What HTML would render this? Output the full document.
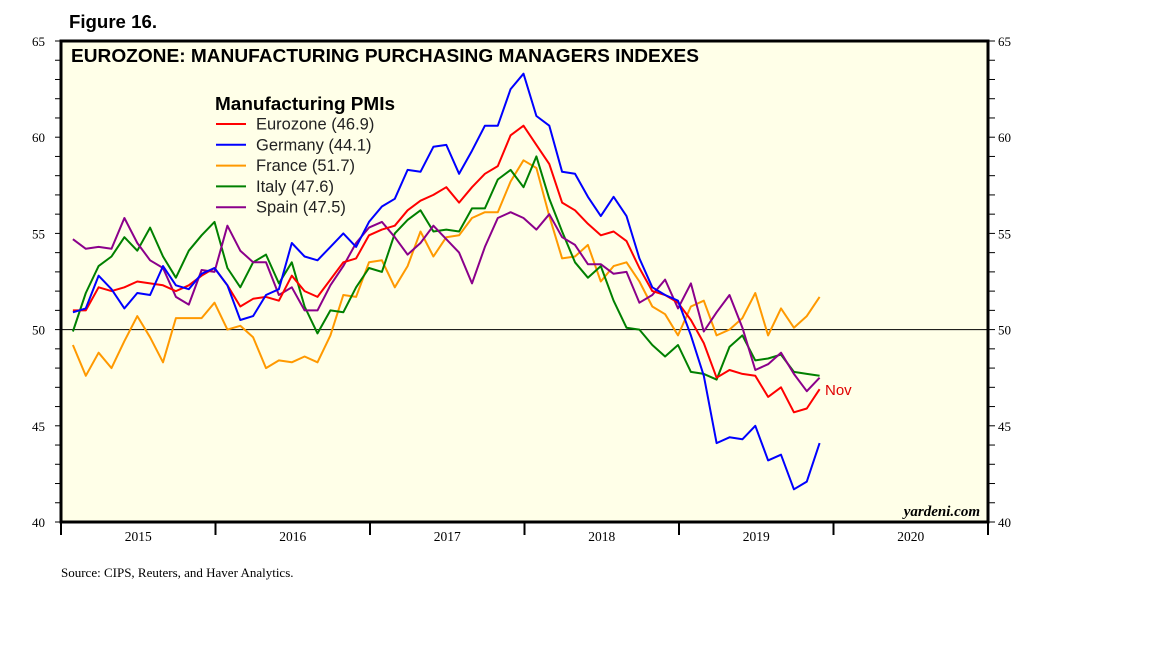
<!DOCTYPE html>
<html><head><meta charset="utf-8"><style>
body{margin:0;background:#fff;width:1152px;height:648px;overflow:hidden}
svg{display:block}
</style></head><body>
<svg id="chart" width="1152" height="648" xmlns="http://www.w3.org/2000/svg">
<text x="69" y="28" font-family="Liberation Sans, sans-serif" font-weight="bold" font-size="18" textLength="88" lengthAdjust="spacingAndGlyphs">Figure 16.</text>
<rect x="61" y="41" width="927" height="481" fill="#ffffe8"/>
<g id="grid"></g>
<g id="series"></g>
<rect x="61" y="41" width="927" height="481" fill="none" stroke="#000" stroke-width="3"/>
<g id="axes"></g>
<text x="71" y="62" font-family="Liberation Sans, sans-serif" font-weight="bold" font-size="18" textLength="628" lengthAdjust="spacingAndGlyphs">EUROZONE: MANUFACTURING PURCHASING MANAGERS INDEXES</text>
<text x="215" y="110" font-family="Liberation Sans, sans-serif" font-weight="bold" font-size="18" textLength="180" lengthAdjust="spacingAndGlyphs">Manufacturing PMIs</text>
<g id="legend"></g>
<text x="825" y="395" fill="#e00000" font-family="Liberation Sans, sans-serif" font-size="15">Nov</text>
<text x="980" y="516" text-anchor="end" font-family="Liberation Serif, serif" font-style="italic" font-weight="bold" font-size="15">yardeni.com</text>
<text x="61" y="577" font-family="Liberation Serif, serif" font-size="13">Source: CIPS, Reuters, and Haver Analytics.</text>
</svg>
<script>
const years = ["2015","2016","2017","2018","2019","2020"];
const yTicks = [40,45,50,55,60,65];
const eurozone = [51.0,51.0,52.2,52.0,52.2,52.5,52.4,52.3,52.0,52.3,52.8,53.2, 52.3,51.2,51.6,51.7,51.5,52.8,52.0,51.7,52.6,53.5,53.7,54.9, 55.2,55.4,56.2,56.7,57.0,57.4,56.6,57.4,58.1,58.5,60.1,60.6, 59.6,58.6,56.6,56.2,55.5,54.9,55.1,54.6,53.2,52.0,51.8,51.4, 50.5,49.3,47.5,47.9,47.7,47.6,46.5,47.0,45.7,45.9,46.9];
const germany = [50.9,51.1,52.8,52.1,51.1,51.9,51.8,53.3,52.3,52.1,52.9,53.2, 52.3,50.5,50.7,51.8,52.1,54.5,53.8,53.6,54.3,55.0,54.3,55.6, 56.4,56.8,58.3,58.2,59.5,59.6,58.1,59.3,60.6,60.6,62.5,63.3, 61.1,60.6,58.2,58.1,56.9,55.9,56.9,55.9,53.7,52.2,51.8,51.5, 49.7,47.6,44.1,44.4,44.3,45.0,43.2,43.5,41.7,42.1,44.1];
const france = [49.2,47.6,48.8,48.0,49.4,50.7,49.6,48.3,50.6,50.6,50.6,51.4, 50.0,50.2,49.6,48.0,48.4,48.3,48.6,48.3,49.7,51.8,51.7,53.5, 53.6,52.2,53.3,55.1,53.8,54.8,54.9,55.8,56.1,56.1,57.7,58.8, 58.4,55.9,53.7,53.8,54.4,52.5,53.3,53.5,52.5,51.2,50.8,49.7, 51.2,51.5,49.7,50.0,50.6,51.9,49.7,51.1,50.1,50.7,51.7];
const italy = [49.9,51.9,53.3,53.8,54.8,54.1,55.3,53.8,52.7,54.1,54.9,55.6, 53.2,52.2,53.5,53.9,52.4,53.5,51.2,49.8,51.0,50.9,52.2,53.2, 53.0,55.0,55.7,56.2,55.1,55.2,55.1,56.3,56.3,57.8,58.3,57.4, 59.0,56.8,55.1,53.5,52.7,53.3,51.5,50.1,50.0,49.2,48.6,49.2, 47.8,47.7,47.4,49.1,49.7,48.4,48.5,48.7,47.8,47.7,47.6];
const spain = [54.7,54.2,54.3,54.2,55.8,54.5,53.6,53.2,51.7,51.3,53.1,53.0, 55.4,54.1,53.5,53.5,51.8,52.2,51.0,51.0,52.3,53.3,54.5,55.3, 55.6,54.8,53.9,54.5,55.4,54.7,54.0,52.4,54.3,55.8,56.1,55.8, 55.2,56.0,54.8,54.4,53.4,53.4,52.9,53.0,51.4,51.8,52.6,51.1, 52.4,49.9,50.9,51.8,50.1,47.9,48.2,48.8,47.7,46.8,47.5];
const seriesNames = ["Eurozone","Germany","France","Italy","Spain"];

const NS="http://www.w3.org/2000/svg";
const X0=61,X1=988,Y0=41,Y1=522,YMIN=40,YMAX=65;
const monthW=(X1-X0)/72;
function xm(i){return X0+(i+1)*monthW-1;}
function yv(v){return Y1-(v-YMIN)/(YMAX-YMIN)*(Y1-Y0);}
function mk(tag,attrs,parent){const e=document.createElementNS(NS,tag);for(const k in attrs)e.setAttribute(k,attrs[k]);parent.appendChild(e);return e;}
const axes=document.getElementById('axes'),grid=document.getElementById('grid'),ser=document.getElementById('series'),leg=document.getElementById('legend');

const l50=mk('line',{x1:X0,x2:X1,y1:yv(50),y2:yv(50),stroke:'#000','stroke-width':1},grid);



for(let v=YMIN;v<=YMAX;v++){
  const y=yv(v);
  mk('line',{x1:X0-6,x2:X0,y1:y,y2:y,stroke:'#000','stroke-width':1},axes);
  mk('line',{x1:X1,x2:X1+7,y1:y,y2:y,stroke:'#000','stroke-width':1},axes);
}
yTicks.forEach(v=>{
  const y=yv(v);
  const t=mk('text',{x:X0-16,y:y+5,'text-anchor':'end','font-family':'Liberation Serif, serif','font-size':13},axes);
  t.textContent=v;
  
  
  const t2=mk('text',{x:X1+10,y:y+5,'font-family':'Liberation Serif, serif','font-size':13},axes);
  t2.textContent=v;
  
  
});
for(let k=0;k<=years.length;k++){
  const x=X0+k*12*monthW;
  mk('line',{x1:x,x2:x,y1:Y1,y2:Y1+13,stroke:'#000','stroke-width':2},axes);
}
years.forEach((yr,k)=>{
  const t=mk('text',{x:X0+(k+0.5)*12*monthW,y:541,'text-anchor':'middle','font-family':'Liberation Serif, serif','font-size':13.5},axes);
  t.textContent=yr;
  
  
});

const data=[eurozone,germany,france,italy,spain];
const colors=["#ff0000","#0000ff","#ff9900","#008000","#8b008b"];
[2,3,4,0,1].forEach(s=>{
  const pts=data[s].map((v,i)=>xm(i).toFixed(1)+','+yv(v).toFixed(1)).join(' ');
  const p=mk('polyline',{points:pts,fill:'none',stroke:colors[s],'stroke-width':2,'stroke-linejoin':'round'},ser);
  
  
});
seriesNames.forEach((n,s)=>{
  const y=124+s*20.8;
  const g=mk('g',{},leg);
  
  
  mk('line',{x1:216,x2:246,y1:y,y2:y,stroke:colors[s],'stroke-width':2},g);
  const last=data[s][data[s].length-1];
  const t=mk('text',{x:256,y:y+5.5,'font-family':'Liberation Sans, sans-serif','font-size':16.5,fill:'#222'},g);
  t.textContent=n+' ('+last.toFixed(1)+')';
});
</script>
</body></html>
